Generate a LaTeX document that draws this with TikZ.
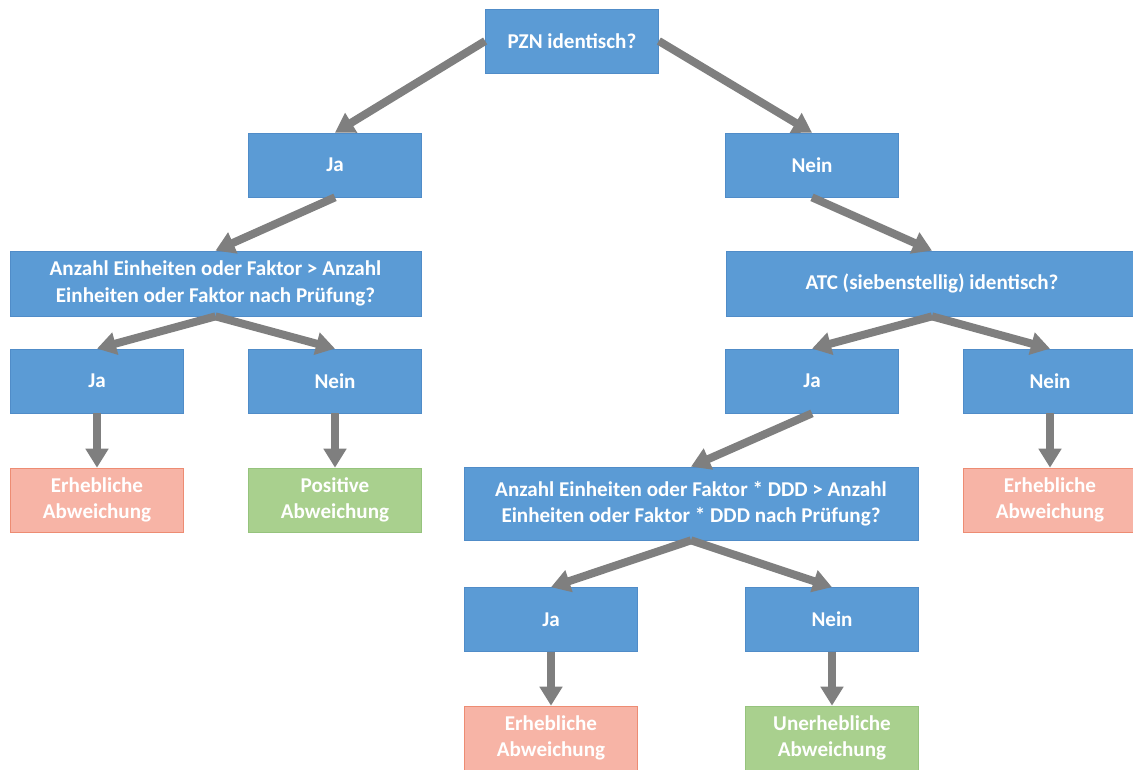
\documentclass[tikz,border=0pt]{standalone}
\usepackage{fontspec}
\setmainfont{Carlito}
\usepackage{tikz}
\usetikzlibrary{arrows.meta,positioning}
\definecolor{boxblue}{RGB}{91,155,213}
\definecolor{boxline}{RGB}{80,140,200}
\definecolor{badfill}{RGB}{247,180,166}
\definecolor{badline}{RGB}{237,140,115}
\definecolor{goodfill}{RGB}{169,208,142}
\definecolor{goodline}{RGB}{150,195,125}
\definecolor{arrgray}{RGB}{127,127,127}
\tikzset{
  box/.style={draw=boxline, fill=boxblue, text=white, inner sep=0pt,
              minimum width=3.46cm, minimum height=1.28cm, align=center,
              font=\bfseries\fontsize{12}{15}\selectfont},
  widebox/.style={box, minimum height=1.3cm},
  badbox/.style={box, fill=badfill, draw=badline},
  goodbox/.style={box, fill=goodfill, draw=goodline},
  arr/.style={-{Triangle[length=3.8mm,width=4.4mm]}, arrgray, line width=1.6mm},
}
\begin{document}
\begin{tikzpicture}[x=0.02cm, y=-0.02cm]
  \useasboundingbox (0,0) rectangle (1133,769);
  % top
  \node[box] (pzn) at (572,41) {PZN identisch?};
  \node[box] (ja1) at (335,165) {Ja};
  \node[box] (nein1) at (812,165) {Nein};
  % left branch
  \node[widebox, minimum width=8.22cm] (qleft) at (215.5,283.5) {Anzahl Einheiten oder Faktor > Anzahl\\Einheiten oder Faktor nach Prüfung?};
  \node[box] (jaLL) at (97,381) {Ja};
  \node[box] (neinLR) at (335,381) {Nein};
  \node[badbox] (erhL) at (97,500) {Erhebliche\\Abweichung};
  \node[goodbox] (posL) at (335,500) {Positive\\Abweichung};
  % right branch
  \node[widebox, minimum width=8.24cm] (atc) at (932,283.5) {ATC (siebenstellig) identisch?};
  \node[box] (jaRL) at (812,381) {Ja};
  \node[box] (neinRR) at (1050,381) {Nein};
  \node[badbox] (erhR) at (1050,500) {Erhebliche\\Abweichung};
  \node[box, minimum width=9.08cm, minimum height=1.46cm] (qright) at (691,503.5) {Anzahl Einheiten oder Faktor * DDD > Anzahl\\Einheiten oder Faktor * DDD nach Prüfung?};
  \node[box] (jaB) at (551,619.5) {Ja};
  \node[box] (neinB) at (832,619.5) {Nein};
  \node[badbox] (erhB) at (551,738) {Erhebliche\\Abweichung};
  \node[goodbox] (unerhB) at (832,738) {Unerhebliche\\Abweichung};
  % arrows
  \draw[arr] (pzn.west) -- (ja1.north);
  \draw[arr] (pzn.east) -- (nein1.north);
  \draw[arr] (ja1.south) -- (qleft.north);
  \draw[arr] (nein1.south) -- (atc.north);
  \draw[arr] (qleft.south) -- (jaLL.north);
  \draw[arr] (qleft.south) -- (neinLR.north);
  \draw[arr] (jaLL.south) -- (erhL.north);
  \draw[arr] (neinLR.south) -- (posL.north);
  \draw[arr] (atc.south) -- (jaRL.north);
  \draw[arr] (atc.south) -- (neinRR.north);
  \draw[arr] (neinRR.south) -- (erhR.north);
  \draw[arr] (jaRL.south) -- (qright.north);
  \draw[arr] (qright.south) -- (jaB.north);
  \draw[arr] (qright.south) -- (neinB.north);
  \draw[arr] (jaB.south) -- (erhB.north);
  \draw[arr] (neinB.south) -- (unerhB.north);
\end{tikzpicture}
\end{document}
